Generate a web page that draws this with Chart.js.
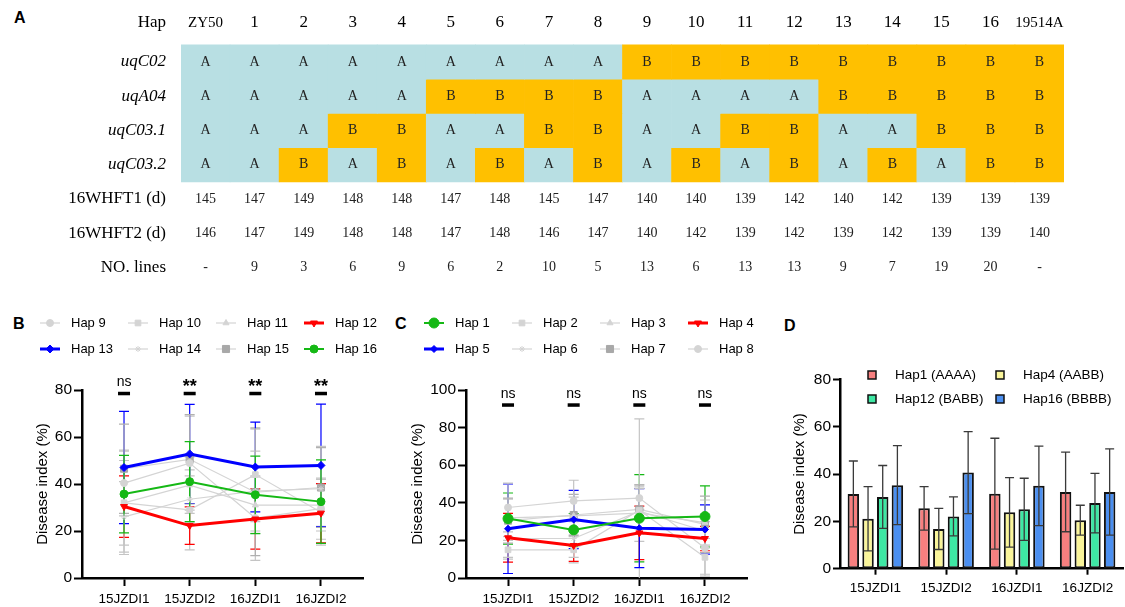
<!DOCTYPE html>
<html>
<head>
<meta charset="utf-8">
<script src="https://cdn.jsdelivr.net/npm/chart.js@4.4.1/dist/chart.umd.min.js"></script>
<style>
  body { margin: 0; background: #fff; width: 1125px; height: 607px; position: relative; overflow: hidden; }
  canvas { position: absolute; }
  .tag { position: absolute; font: bold 16px 'Liberation Sans', Arial, sans-serif; color: #000; line-height: 16px; }
</style>
</head>
<body>
<div class="tag" style="left:14px;top:10px">A</div>
<div class="tag" style="left:13px;top:316px">B</div>
<div class="tag" style="left:395px;top:316px">C</div>
<div class="tag" style="left:784px;top:318px">D</div>
<canvas id="hapTable" width="1125" height="295" style="left:0;top:0"></canvas>
<canvas id="chartB" width="380" height="307" style="left:0;top:300px"></canvas>
<canvas id="chartC" width="375" height="307" style="left:380px;top:300px"></canvas>
<canvas id="chartD" width="365" height="307" style="left:760px;top:300px"></canvas>
<script>
// ---- panel A: haplotype table ----
const headerLabel = 'Hap';
const haps = ['ZY50', '1', '2', '3', '4', '5', '6', '7', '8', '9', '10', '11', '12', '13', '14', '15', '16', '19514A'];
const markers = ['uqC02', 'uqA04', 'uqC03.1', 'uqC03.2'];
const genotypes = [
    'AAAAAAAAABBBBBBBBB',
    'AAAAABBBBAAAABBBBB',
    'AAABBAABBAABBAABBB',
    'AABABABABABABABABB'
];
const ft1 = [145, 147, 149, 148, 148, 147, 148, 145, 147, 140, 140, 139, 142, 140, 142, 139, 139, 139];
const ft2 = [146, 147, 149, 148, 148, 147, 148, 146, 147, 140, 142, 139, 142, 139, 142, 139, 139, 140];
const nLines = ['-', 9, 3, 6, 9, 6, 2, 10, 5, 13, 6, 13, 13, 9, 7, 19, 20, '-'];
const infoRows = ['16WHFT1 (d)', '16WHFT2 (d)', 'NO. lines'];

// ---- panels B-D ----
const envs = ['15JZDI1', '15JZDI2', '16JZDI1', '16JZDI2'];
const sigB = ['ns', '**', '**', '**'];
const sigC = ['ns', 'ns', 'ns', 'ns'];

// B: haplotypes 9-16 (mean, sd)
const hap9 = [40.4, 48.9, 25.5, 29.5],  hap9Sd = [14, 20, 18, 13];
const hap10 = [32, 29, 44, 28],         hap10Sd = [22, 17, 20, 14];
const hap11 = [32, 39.5, 31, 31],       hap11Sd = [18, 12, 12, 9];
const hap12 = [30.4, 22.3, 25.1, 27.6], hap12Sd = [13.1, 8, 12.8, 12.6];
const hap13 = [47.0, 52.8, 47.2, 47.9], hap13Sd = [23.9, 21.1, 19.1, 26.1];
const hap14 = [26, 33.5, 37, 38],       hap14Sd = [15, 10, 17, 18];
const hap15 = [46.5, 50.5, 36.5, 38.5], hap15Sd = [19, 19, 27, 17];
const hap16 = [35.7, 41.0, 35.4, 32.5], hap16Sd = [16.5, 17, 16.5, 17.8];

// C: haplotypes 1-8 (mean, sd)
const hap1 = [31.6, 25.6, 31.8, 32.7], hap1Sd = [13.6, 8.7, 23.2, 16.3];
const hap2 = [15, 15, 36, 11],         hap2Sd = [5, 7, 48.6, 10];
const hap3 = [32, 33, 34.5, 29.5],     hap3Sd = [10, 10, 15, 12];
const hap4 = [21.4, 17.3, 24.0, 21.0], hap4Sd = [13, 8.5, 14.2, 6.5];
const hap5 = [26.2, 31.1, 26.5, 25.8], hap5Sd = [23.8, 15.5, 21, 13.1];
const hap6 = [21, 21, 35.5, 25],       hap6Sd = [10, 10, 12, 9];
const hap7 = [30.5, 33.5, 36.5, 28.5], hap7Sd = [12, 11, 13, 15];
const hap8 = [37.5, 41, 42.5, 16],     hap8Sd = [13, 11, 6, 14];

// D: four representative haplotypes
const dLabels = ['Hap1 (AAAA)', 'Hap4 (AABB)', 'Hap12 (BABB)', 'Hap16 (BBBB)'];
const dHap1 = [31.6, 25.5, 31.7, 32.4],  dHap1Sd = [13.9, 9.2, 23.4, 16.8];
const dHap4 = [21.1, 16.8, 23.8, 20.5],  dHap4Sd = [13.6, 8.7, 14.7, 6.3];
const dHap12 = [30.3, 22.1, 25.1, 27.7], dHap12Sd = [13.3, 8.2, 13.1, 12.6];
const dHap16 = [35.3, 40.6, 35.0, 32.4], dHap16Sd = [16.7, 17.3, 16.8, 18.2];

const SANS = "'Liberation Sans', Arial, sans-serif";
const SERIF = "'Liberation Serif', 'Times New Roman', serif";
Chart.defaults.font.family = SANS;
Chart.defaults.color = '#000';

const CYAN = '#b8dfe3', GOLD = '#ffc000';
const RED = '#ff0000', BLUE = '#0000ff', GREEN = '#15b815';
const LIGHT = '#d4d4d4', DARK = '#a8a8a8';

// no extra room for first/last tick labels, the layout padding decides
function noLabelPad(s) {
    s.paddingTop = 0;
    s.paddingBottom = 0;
}

// text inside the haplotype table
const cellText = {
    id: 'cellText',
    afterDatasetsDraw(chart) {
        const { ctx, chartArea } = chart;
        const x = chart.scales.x, y = chart.scales.y;
        const hy = y.getPixelForValue(-1) - 5;
        ctx.save();
        ctx.fillStyle = '#000';
        ctx.textBaseline = 'middle';
        ctx.font = `17px ${SERIF}`;
        ctx.textAlign = 'right';
        ctx.fillText(headerLabel, chartArea.left - 15, hy);
        ctx.textAlign = 'center';
        haps.forEach((h, i) => {
            const px = x.getPixelForValue(i);
            ctx.fillStyle = '#000';
            ctx.font = `${h.length > 2 ? 15 : 17}px ${SERIF}`;
            ctx.fillText(h, px, hy);
            ctx.fillStyle = '#222';
            ctx.font = `14px ${SERIF}`;
            genotypes.forEach((g, r) => ctx.fillText(g[i], px, y.getPixelForValue(r)));
            [ft1, ft2, nLines].forEach((row, k) => {
                ctx.fillText(String(row[i]), px, y.getPixelForValue(markers.length + k));
            });
        });
        ctx.restore();
    }
};

const rowNames = [...markers, ...infoRows];

new Chart(document.getElementById('hapTable'), {
    type: 'bar',
    data: {
        labels: haps,
        datasets: genotypes.map((g, r) => ({
            data: haps.map(() => [r - 0.5, r + 0.5]),
            backgroundColor: g.split('').map(c => c === 'A' ? CYAN : GOLD),
            borderWidth: 0,
            barPercentage: 1,
            categoryPercentage: 1,
            grouped: false
        }))
    },
    options: {
        responsive: false,
        animation: false,
        layout: { padding: { top: 10.6, bottom: 10.4, left: 0, right: 61 } },
        plugins: { legend: { display: false }, tooltip: { enabled: false } },
        scales: {
            x: { display: false },
            y: {
                reverse: true,
                min: -1.5,
                max: 6.5,
                grid: { display: false, drawTicks: false },
                border: { display: false },
                afterBuildTicks: s => { s.ticks = rowNames.map((_, i) => ({ value: i })); },
                afterFit: s => { s.width = 181; noLabelPad(s); },
                ticks: {
                    padding: 15,
                    color: '#000',
                    callback: v => rowNames[v],
                    font: c => ({ family: SERIF, size: 17, style: c.index < markers.length ? 'italic' : 'normal' })
                }
            }
        }
    },
    plugins: [cellText]
});

// ---- shared plugins for B-D ----
function valueOf(d) {
    return (d !== null && typeof d === 'object') ? d.y : d;
}

function drawErrors(chart, opts) {
    const { ctx } = chart;
    ctx.save();
    ctx.lineWidth = opts.width || 1.2;
    chart.data.datasets.forEach((ds, di) => {
        if (!ds.errors) return;
        const meta = chart.getDatasetMeta(di);
        const yS = chart.scales[meta.yAxisID];
        ctx.strokeStyle = opts.color || ds.errorColor || ds.borderColor;
        meta.data.forEach((el, i) => {
            const v = valueOf(ds.data[i]), e = ds.errors[i];
            const px = el.x;
            const top = yS.getPixelForValue(v + e);
            const low = v - e;
            const bot = yS.getPixelForValue(Math.max(yS.min, low));
            const cap = opts.cap || 5;
            ctx.beginPath();
            ctx.moveTo(px, top);
            ctx.lineTo(px, bot);
            ctx.moveTo(px - cap, top);
            ctx.lineTo(px + cap, top);
            if (low > yS.min) {
                ctx.moveTo(px - cap, bot);
                ctx.lineTo(px + cap, bot);
            }
            ctx.stroke();
        });
    });
    ctx.restore();
}

const errorBars = {
    id: 'errorBars',
    beforeDatasetsDraw(chart, args, opts) {
        if (!opts.front) drawErrors(chart, opts);
    },
    afterDatasetsDraw(chart, args, opts) {
        if (opts.front) drawErrors(chart, opts);
    }
};

const sigMarks = {
    id: 'sigMarks',
    afterDraw(chart, args, opts) {
        if (!opts.labels) return;
        const { ctx } = chart;
        const x = chart.scales.x, y = chart.scales.y;
        ctx.save();
        ctx.fillStyle = '#000';
        ctx.textAlign = 'center';
        ctx.textBaseline = 'middle';
        opts.labels.forEach((t, i) => {
            const px = x.getPixelForValue(i), py = y.getPixelForValue(opts.level);
            ctx.fillRect(px - 6, py - 1.75, 12, 3.5);
            if (t === 'ns') {
                ctx.font = `14px ${SANS}`;
                ctx.fillText(t, px, py - 11);
            } else {
                ctx.font = `bold 18px ${SANS}`;
                ctx.fillText(t, px, py - 6);
            }
        });
        ctx.restore();
    }
};

function marker(ctx, ds, x, y) {
    ctx.fillStyle = ds.pointBackgroundColor || ds.borderColor;
    ctx.strokeStyle = ds.pointBorderColor || ds.borderColor;
    ctx.lineWidth = 1;
    Chart.helpers.drawPoint(ctx, {
        pointStyle: ds.pointStyle,
        rotation: ds.pointRotation || 0,
        radius: ds.pointRadius,
        borderWidth: 1
    }, x, y);
}

const lineLegend = {
    id: 'lineLegend',
    afterDraw(chart, args, opts) {
        if (!opts.show) return;
        const { ctx, chartArea } = chart;
        ctx.save();
        chart.data.datasets.forEach((ds, i) => {
            const x0 = chartArea.left - 42 + (i % 4) * 88;
            const y0 = 23 + Math.floor(i / 4) * 26;
            ctx.strokeStyle = ds.borderColor;
            ctx.lineWidth = ds.borderWidth;
            ctx.beginPath();
            ctx.moveTo(x0, y0);
            ctx.lineTo(x0 + 20, y0);
            ctx.stroke();
            marker(ctx, ds, x0 + 10, y0);
            ctx.fillStyle = '#000';
            ctx.font = `13px ${SANS}`;
            ctx.textAlign = 'left';
            ctx.textBaseline = 'middle';
            ctx.fillText(ds.label, x0 + 31, y0);
        });
        ctx.restore();
    }
};

const boxLegend = {
    id: 'boxLegend',
    afterDraw(chart, args, opts) {
        if (!opts.show) return;
        const { ctx, chartArea } = chart;
        ctx.save();
        chart.data.datasets.forEach((ds, i) => {
            const x0 = chartArea.left + 32 + (i % 2) * 128;
            const y0 = 75 + Math.floor(i / 2) * 24;
            ctx.fillStyle = ds.backgroundColor;
            ctx.fillRect(x0 - 4, y0 - 4, 8, 8);
            ctx.strokeStyle = '#111';
            ctx.lineWidth = 1.5;
            ctx.strokeRect(x0 - 4, y0 - 4, 8, 8);
            ctx.fillStyle = '#000';
            ctx.font = `13.5px ${SANS}`;
            ctx.textAlign = 'left';
            ctx.textBaseline = 'middle';
            ctx.fillText(ds.label, x0 + 23, y0);
        });
        ctx.restore();
    }
};

function axisStyle(tickLength) {
    return {
        grid: { drawOnChartArea: false, drawTicks: true, tickLength: tickLength, tickWidth: 2, tickColor: '#000' },
        border: { color: '#000', width: 2.5 }
    };
}

function series(label, values, sd, color, style) {
    const strong = color !== LIGHT;
    return {
        label: label,
        data: values.map((v, i) => ({ x: i, y: v })),
        errors: sd,
        errorColor: style.errorColor || color,
        borderColor: color,
        backgroundColor: color,
        borderWidth: style.width || (strong ? 3 : 1.2),
        pointStyle: style.point,
        pointRotation: style.rotation || 0,
        pointRadius: style.radius || 3.5,
        pointBackgroundColor: style.fill || color,
        pointBorderColor: style.fill || color,
        pointBorderWidth: 1,
        order: strong ? 0 : 1
    };
}

function lineChart(id, datasets, sig, yMax, sigLevel, yWidth, padRight, titlePad) {
    const xs = axisStyle(8), ys = axisStyle(8);
    return new Chart(document.getElementById(id), {
        type: 'line',
        data: { datasets: datasets },
        options: {
            responsive: false,
            animation: false,
            layout: { padding: { top: 90, right: padRight, left: 0, bottom: 0 } },
            plugins: {
                legend: { display: false },
                tooltip: { enabled: false },
                errorBars: { width: 1.2, cap: 5 },
                sigMarks: { labels: sig, level: sigLevel },
                lineLegend: { show: true }
            },
            scales: {
                x: {
                    type: 'linear',
                    min: -0.64,
                    max: 3.64,
                    afterBuildTicks: s => { s.ticks = envs.map((_, i) => ({ value: i })); },
                    afterFit: s => { s.height = 29; },
                    ticks: { callback: v => envs[v], font: { size: 13.5 }, color: '#000', padding: 5, maxRotation: 0, autoSkip: false },
                    grid: xs.grid,
                    border: xs.border
                },
                y: {
                    min: 0,
                    max: yMax,
                    afterFit: s => { s.width = yWidth; noLabelPad(s); },
                    ticks: { stepSize: 20, font: { size: 15.5 }, color: '#000', padding: 2 },
                    grid: ys.grid,
                    border: ys.border,
                    title: { display: true, text: 'Disease index (%)', font: { size: 15 }, color: '#000', padding: { top: titlePad, bottom: 0 } }
                }
            }
        },
        plugins: [errorBars, sigMarks, lineLegend]
    });
}

lineChart('chartB', [
    series('Hap 9', hap9, hap9Sd, LIGHT, { point: 'circle', radius: 3.5, errorColor: '#c4c4c4' }),
    series('Hap 10', hap10, hap10Sd, LIGHT, { point: 'rect', radius: 4, errorColor: '#c4c4c4' }),
    series('Hap 11', hap11, hap11Sd, LIGHT, { point: 'triangle', radius: 3.5, errorColor: '#c4c4c4' }),
    series('Hap 12', hap12, hap12Sd, RED, { point: 'triangle', rotation: 180, radius: 4 }),
    series('Hap 13', hap13, hap13Sd, BLUE, { point: 'rectRot', radius: 4 }),
    series('Hap 14', hap14, hap14Sd, LIGHT, { point: 'star', radius: 3, errorColor: '#c4c4c4' }),
    series('Hap 15', hap15, hap15Sd, LIGHT, { point: 'rect', radius: 5, fill: DARK, errorColor: '#b0b0b0' }),
    series('Hap 16', hap16, hap16Sd, GREEN, { point: 'circle', radius: 4, width: 2 })
], sigB, 80, 78.5, 82, 17, 34);

lineChart('chartC', [
    series('Hap 1', hap1, hap1Sd, GREEN, { point: 'circle', radius: 5, width: 2 }),
    series('Hap 2', hap2, hap2Sd, LIGHT, { point: 'rect', radius: 4, errorColor: '#c4c4c4' }),
    series('Hap 3', hap3, hap3Sd, LIGHT, { point: 'triangle', radius: 3.5, errorColor: '#c4c4c4' }),
    series('Hap 4', hap4, hap4Sd, RED, { point: 'triangle', rotation: 180, radius: 4 }),
    series('Hap 5', hap5, hap5Sd, BLUE, { point: 'rectRot', radius: 3.5 }),
    series('Hap 6', hap6, hap6Sd, LIGHT, { point: 'star', radius: 3, errorColor: '#c4c4c4' }),
    series('Hap 7', hap7, hap7Sd, LIGHT, { point: 'rect', radius: 5, fill: DARK, errorColor: '#b0b0b0' }),
    series('Hap 8', hap8, hap8Sd, LIGHT, { point: 'circle', radius: 3.5, errorColor: '#c4c4c4' })
], sigC, 100, 92, 86, 8, 29);

// ---- D: grouped bars ----
const dStyles = ['#f77f7f', '#faf59a', '#3ee8a4', '#4b8ff0'];
const dValues = [dHap1, dHap4, dHap12, dHap16];
const dErrors = [dHap1Sd, dHap4Sd, dHap12Sd, dHap16Sd];
const dAxis = axisStyle(6);

new Chart(document.getElementById('chartD'), {
    type: 'bar',
    data: {
        labels: envs,
        datasets: dLabels.map((label, i) => ({
            label: label,
            data: dValues[i],
            errors: dErrors[i],
            backgroundColor: dStyles[i],
            borderColor: '#111',
            borderWidth: 2,
            borderSkipped: false,
            barPercentage: 0.78,
            categoryPercentage: 0.83
        }))
    },
    options: {
        responsive: false,
        animation: false,
        layout: { padding: { top: 79.3, right: 2, left: 0, bottom: 0 } },
        plugins: {
            legend: { display: false },
            tooltip: { enabled: false },
            errorBars: { front: true, width: 1.3, cap: 4.5, color: '#3a3a3a' },
            boxLegend: { show: true }
        },
        scales: {
            x: {
                afterFit: s => { s.height = 38.3; },
                ticks: { font: { size: 13.5 }, color: '#000', padding: 5, maxRotation: 0 },
                grid: { drawOnChartArea: false, drawTicks: true, tickLength: 6, tickWidth: 2, tickColor: '#000', offset: false },
                border: dAxis.border
            },
            y: {
                min: 0,
                max: 80,
                afterFit: s => { s.width = 80; noLabelPad(s); },
                ticks: { stepSize: 20, font: { size: 15.5 }, color: '#000', padding: 2 },
                grid: { drawOnChartArea: false, drawTicks: true, tickLength: 7, tickWidth: 2, tickColor: '#000' },
                border: dAxis.border,
                title: { display: true, text: 'Disease index (%)', font: { size: 15 }, color: '#000', padding: { top: 31, bottom: 0 } }
            }
        }
    },
    plugins: [errorBars, boxLegend]
});
</script>
</body>
</html>
